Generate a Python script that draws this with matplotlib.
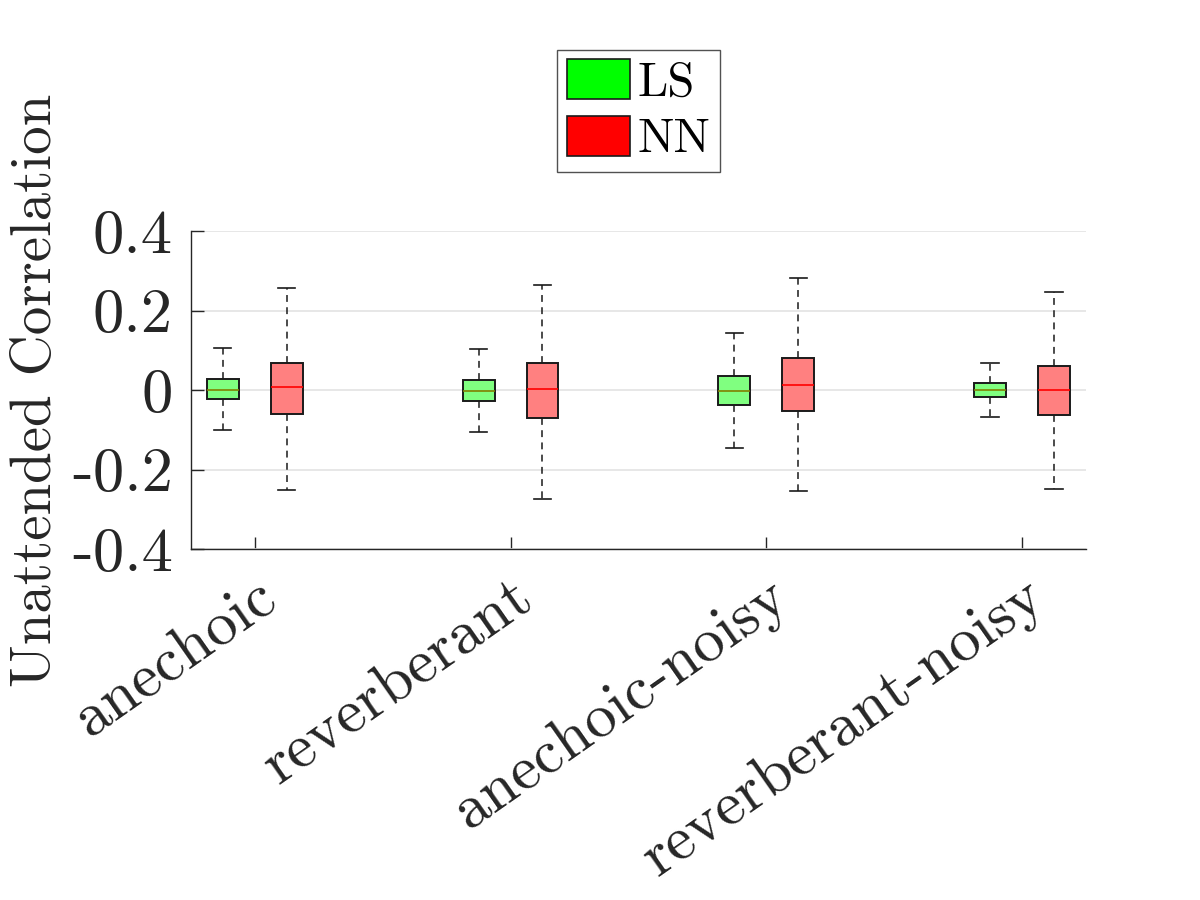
import matplotlib
matplotlib.use("Agg")
import matplotlib.pyplot as plt
from matplotlib.patches import Patch

# conditions on the x axis
conditions = ["anechoic", "reverberant", "anechoic-noisy", "reverberant-noisy"]

# box stats: lower whisker, q1, median, q3, upper whisker
ls_whislo = [-0.101, -0.105, -0.145, -0.068]
ls_q1 = [-0.023, -0.028, -0.037, -0.017]
ls_med = [0.000, -0.002, -0.002, -0.001]
ls_q3 = [0.028, 0.026, 0.035, 0.017]
ls_whishi = [0.106, 0.102, 0.144, 0.069]

nn_whislo = [-0.251, -0.274, -0.253, -0.249]
nn_q1 = [-0.060, -0.070, -0.054, -0.062]
nn_med = [0.007, 0.002, 0.013, -0.001]
nn_q3 = [0.068, 0.068, 0.080, 0.061]
nn_whishi = [0.256, 0.264, 0.281, 0.247]

yticks = [-0.4, -0.2, 0, 0.2, 0.4]
ytick_labels = ["-0.4", "-0.2", "0", "0.2", "0.4"]

txt = "#262626"
plt.rcParams["font.family"] = ["cmr10", "DejaVu Serif"]
plt.rcParams["axes.unicode_minus"] = False

fig = plt.figure(figsize=(12, 9), dpi=100)
ax = fig.add_axes([0.159, 0.39, 0.746, 0.3533])


def stats(lo, q1, med, q3, hi):
    return [dict(whislo=a, q1=b, med=c, q3=d, whishi=e, fliers=[])
            for a, b, c, d, e in zip(lo, q1, med, q3, hi)]


pos = range(1, len(conditions) + 1)
groups = [
    (stats(ls_whislo, ls_q1, ls_med, ls_q3, ls_whishi), -0.125, "#80ff80", "#808000"),
    (stats(nn_whislo, nn_q1, nn_med, nn_q3, nn_whishi), 0.125, "#ff8080", "#ff0000"),
]
for st, off, face, medc in groups:
    ax.bxp(st, positions=[p + off for p in pos], widths=0.125, capwidths=0.068,
           patch_artist=True, showfliers=False, manage_ticks=False,
           boxprops=dict(facecolor=face, edgecolor="#1a1a1a", linewidth=1.4),
           medianprops=dict(color=medc, linewidth=1.2),
           whiskerprops=dict(color="#1a1a1a", linewidth=1.1, linestyle=(0, (4.5, 3.5))),
           capprops=dict(color="#1a1a1a", linewidth=1.2))

ax.set_xlim(0.75, 4.25)
ax.set_ylim(-0.4, 0.4)
ax.set_yticks(yticks)
ax.set_yticklabels(ytick_labels)
ax.set_xticks(list(pos))
ax.set_xticklabels(conditions, rotation=35, ha="right", rotation_mode="anchor")

ax.yaxis.grid(True, color="#e3e3e3", linewidth=1.2)
ax.set_axisbelow(True)
for s in ["top", "right"]:
    ax.spines[s].set_visible(False)
for s in ["left", "bottom"]:
    ax.spines[s].set_color(txt)
    ax.spines[s].set_linewidth(1.0)
ax.tick_params(direction="in", length=9, width=1.0, colors=txt, labelsize=45, pad=13)
ax.tick_params(axis="x", pad=14)

ax.set_ylabel("Unattended Correlation", fontsize=41, color=txt, labelpad=7)

handles = [Patch(facecolor="#00ff00", edgecolor="#1a1a1a", linewidth=1.2, label="LS"),
           Patch(facecolor="#ff0000", edgecolor="#1a1a1a", linewidth=1.2, label="NN")]
leg = ax.legend(handles=handles, loc="lower center", bbox_to_anchor=(0.5, 1.185),
                fontsize=35, frameon=True, fancybox=False, handlelength=1.3,
                handleheight=0.88, handletextpad=0.15, borderpad=0.2,
                labelspacing=0.2, borderaxespad=0)
leg.get_frame().set_edgecolor(txt)
leg.get_frame().set_linewidth(1.0)

fig.savefig("out.png", dpi=100, facecolor="white")
